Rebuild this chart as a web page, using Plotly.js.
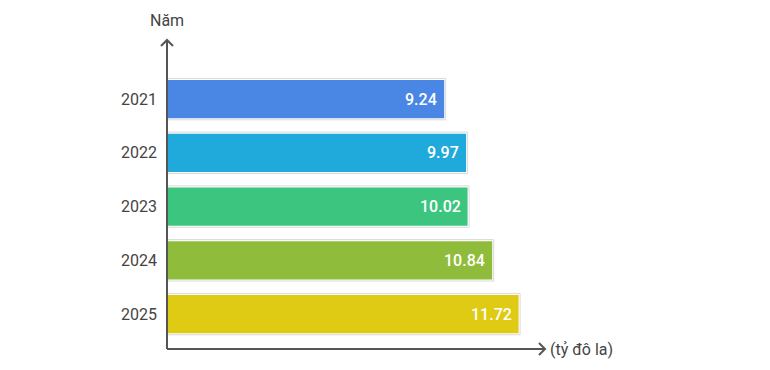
<!DOCTYPE html>
<html><head><meta charset="utf-8">
<script src="https://cdn.plot.ly/plotly-3.0.1.min.js"></script>
<style>body{margin:0;background:#fff}#c{width:770px;height:370px}</style>
</head><body><div id="c"></div>
<script>
const years = ["2021","2022","2023","2024","2025"];
const values = [9.24, 9.97, 10.02, 10.84, 11.72];
const colors = ["#4A86E4","#20AADB","#3CC57F","#8FBC3A","#E0CB14"];
const xLabel = "(tỷ đô la)";
const yLabel = "Năm";

const outline = {
  type:'bar', orientation:'h', y: years, x: values.map(v=>v+0.05),
  width: 0.77, marker:{color:'#ffffff', line:{color:'#d9d9d9', width:1}},
  hoverinfo:'skip'
};
const bars = {
  type:'bar', orientation:'h', y: years, x: values, width: 0.71,
  marker:{color: colors, line:{width:0}}, hoverinfo:'skip'
};
const ann = values.map((v,i)=>({x:v, y:i, xref:'x', yref:'y', text:v.toFixed(2),
  showarrow:false, xanchor:'right', yanchor:'middle', xshift:-5,
  font:{family:'Roboto', size:16, color:'#fff', weight:500}}));
ann.push({xref:'paper', yref:'paper', x:0, y:1, text:yLabel, showarrow:false,
  font:{family:'Roboto', size:16, color:'#444'}, xanchor:'center', yanchor:'bottom', yshift:8});
ann.push({xref:'paper', yref:'paper', x:1, y:0, xshift:3, text:xLabel, showarrow:false,
  font:{family:'Roboto', size:16, color:'#444'}, xanchor:'left', yanchor:'middle'});

const layout = {
  width:770, height:370, margin:{l:167, r:225, t:40, b:21},
  paper_bgcolor:'#fff', plot_bgcolor:'#fff', barmode:'overlay', showlegend:false,
  xaxis:{range:[0,12.6], showgrid:false, zeroline:false, showticklabels:false, showline:false, fixedrange:true},
  yaxis:{type:'category', categoryarray:years, range:[4.65,-1.1], showgrid:false, zeroline:false,
    showline:false, ticks:'', ticklabelstandoff:9, tickfont:{family:'Roboto', size:16, color:'#444'}},
  annotations: ann,
  shapes:[
    {type:'line', xref:'paper', yref:'paper', x0:0, x1:0, y0:0, y1:1, line:{color:'#555', width:2}},
    {type:'line', xref:'paper', yref:'paper', x0:0, x1:1, y0:0, y1:0, line:{color:'#555', width:2}},
    {type:'path', xref:'paper', yref:'paper', xsizemode:'pixel', ysizemode:'pixel', xanchor:0, yanchor:1,
      path:'M-6,-6 L0,0 L6,-6', line:{color:'#555', width:2}},
    {type:'path', xref:'paper', yref:'paper', xsizemode:'pixel', ysizemode:'pixel', xanchor:1, yanchor:0,
      path:'M-6,6 L0,0 L-6,-6', line:{color:'#555', width:2}}
  ]
};
Plotly.newPlot('c',[outline,bars],layout,{staticPlot:true});
</script></body></html>
